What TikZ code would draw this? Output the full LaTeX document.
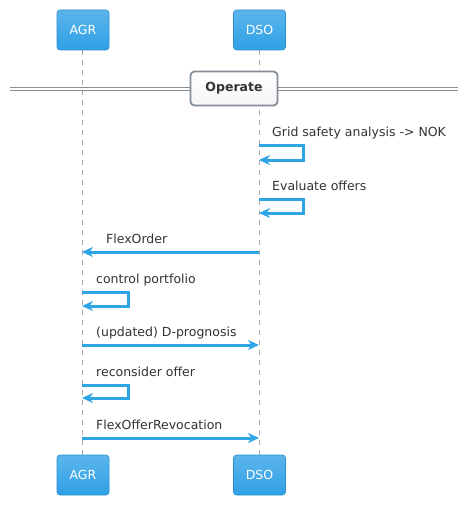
\documentclass[tikz,border=0pt]{standalone}
\usepackage{fontspec}
\setmainfont{DejaVu Sans}
\usetikzlibrary{arrows.meta,shadings}
\definecolor{msgc}{HTML}{2FA4E7}
\definecolor{boxtop}{HTML}{5BB5EC}
\definecolor{boxbot}{HTML}{2FA0E5}
\definecolor{boxline}{HTML}{2A8FCF}
\definecolor{txt}{HTML}{333333}
\definecolor{divc}{HTML}{858D96}
\definecolor{lifec}{HTML}{AAAAAA}
\begin{document}
\begin{tikzpicture}[x=1pt,y=-1pt,
  partbox/.style={draw=boxline,line width=0.6pt,rounded corners=3pt,top color=boxtop,bottom color=boxbot,
    minimum width=52pt,minimum height=40pt,text=white,font=\fontsize{12.5}{14}\selectfont,inner sep=0pt},
  msg/.style={draw=msgc,line width=3pt,-{Stealth[length=11pt,width=10pt,inset=3.5pt]}},
  lbl/.style={text=txt,font=\fontsize{12.5}{14}\selectfont,anchor=base west,inner sep=0pt},
  life/.style={draw=lifec,line width=0.8pt,dash pattern=on 5pt off 5pt},
  divline/.style={draw=divc,line width=1pt},
  divbox/.style={draw=divc,line width=1.8pt,rounded corners=4pt,top color=white,bottom color=gray!8,
    minimum width=87pt,minimum height=34pt,font=\bfseries\fontsize{12.5}{14}\selectfont,text=txt,inner sep=0pt}]
\useasboundingbox (0,0) rectangle (469,505);
\fill[white] (0,0) rectangle (469,505);
% lifelines
\coordinate (agrT) at (82,50); \coordinate (agrB) at (82,455);
\coordinate (dsoT) at (259,50); \coordinate (dsoB) at (259,455);
\draw[life] (agrT) -- (agrB);
\draw[life] (dsoT) -- (dsoB);
% participants
\node[partbox] (agr1) at (83,30) {AGR};
\node[partbox] (dso1) at (259.5,30) {DSO};
\node[partbox] (agr2) at (83,475) {AGR};
\node[partbox] (dso2) at (259.5,475) {DSO};
% divider
\coordinate (dl1) at (10,87.5); \coordinate (dr1) at (458,87.5);
\coordinate (dl2) at (10,90.5); \coordinate (dr2) at (458,90.5);
\draw[divline] (dl1) -- (dr1);
\draw[divline] (dl2) -- (dr2);
\node[divbox] (op) at (234,88.5) {Operate};
% messages
\coordinate (m1a) at (259,146); \coordinate (m1b) at (259,160);
\draw[msg] (m1a) -- ++(44,0) |- (m1b);
\node[lbl] (l1) at (272,137) {Grid safety analysis -> NOK};
\coordinate (m2a) at (259,199); \coordinate (m2b) at (259,213);
\draw[msg] (m2a) -- ++(44,0) |- (m2b);
\node[lbl] (l2) at (272,190) {Evaluate offers};
\coordinate (m3a) at (259,252); \coordinate (m3b) at (82,252);
\draw[msg] (m3a) -- (m3b);
\node[lbl] (l3) at (106,243) {FlexOrder};
\coordinate (m4a) at (82,292); \coordinate (m4b) at (82,306);
\draw[msg] (m4a) -- ++(46,0) |- (m4b);
\node[lbl] (l4) at (96,283) {control portfolio};
\coordinate (m5a) at (82,345); \coordinate (m5b) at (259,345);
\draw[msg] (m5a) -- (m5b);
\node[lbl] (l5) at (96,336) {(updated) D-prognosis};
\coordinate (m6a) at (82,385); \coordinate (m6b) at (82,398);
\draw[msg] (m6a) -- ++(46,0) |- (m6b);
\node[lbl] (l6) at (96,376) {reconsider offer};
\coordinate (m7a) at (82,438); \coordinate (m7b) at (259,438);
\draw[msg] (m7a) -- (m7b);
\node[lbl] (l7) at (96,429) {FlexOfferRevocation};
\end{tikzpicture}
\end{document}
